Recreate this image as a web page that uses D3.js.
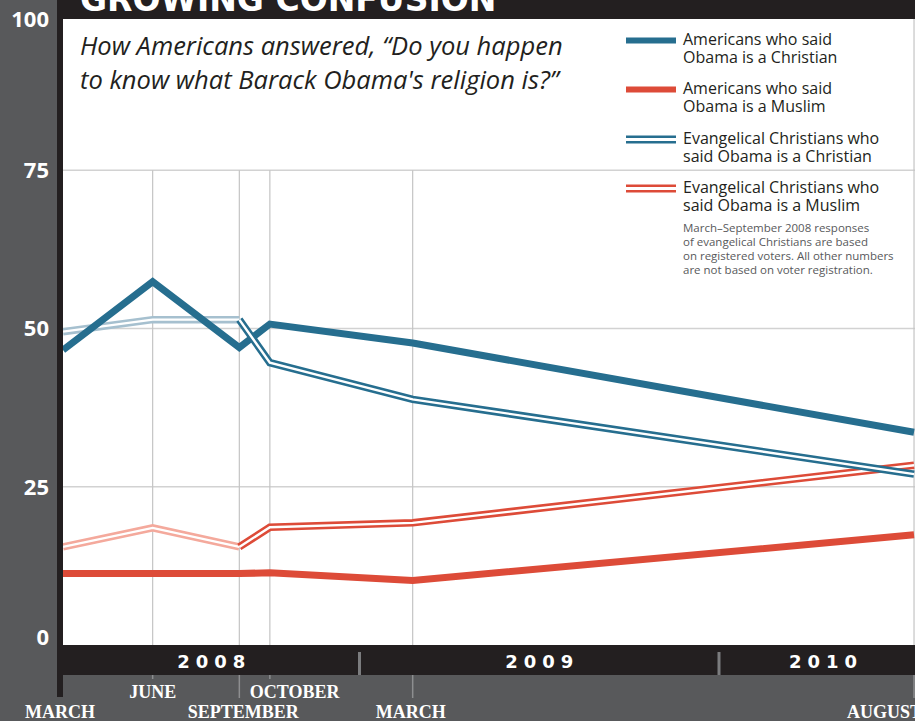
<!DOCTYPE html>
<html>
<head>
<meta charset="utf-8">
<script src="https://cdn.jsdelivr.net/npm/d3@7"></script>
<style>
  html, body { margin: 0; padding: 0; background: #58595b; }
  svg { display: block; }
</style>
</head>
<body>
<svg id="chart" width="915" height="721"></svg>
<script>
// ---- data ----
const surveyDates = ["2008-03-06", "2008-06-05", "2008-09-01", "2008-10-02", "2009-02-24", "2010-07-18"];
const monthLabels = ["MARCH", "JUNE", "SEPTEMBER", "OCTOBER", "MARCH", "AUGUST"];
const monthLabelRow = [2, 1, 2, 1, 2, 2];
const americansChristian = [46.6, 57.4, 47.0, 50.7, 47.7, 33.6];
const americansMuslim = [11.3, 11.3, 11.3, 11.4, 10.2, 17.4];
const evangelicalChristian = [49.5, 51.4, 51.4, 44.6, 38.8, 27.0];
const evangelicalMuslim = [15.5, 18.5, 15.5, 18.6, 19.3, 28.4];
const yTickValues = [0, 25, 50, 75, 100];
const yearLabels = ["2008", "2009", "2010"];
const legendItems = [
  { lines: ["Americans who said", "Obama is a Christian"], key: "blue", double: false },
  { lines: ["Americans who said", "Obama is a Muslim"], key: "red", double: false },
  { lines: ["Evangelical Christians who", "said Obama is a Christian"], key: "blue", double: true },
  { lines: ["Evangelical Christians who", "said Obama is a Muslim"], key: "red", double: true }
];
const noteLines = [
  "March\u2013September 2008 responses",
  "of evangelical Christians are based",
  "on registered voters. All other numbers",
  "are not based on voter registration."
];
const titleText = "GROWING CONFUSION";
const subtitleLines = ["How Americans answered, \u201cDo you happen", "to know what Barack Obama's religion is?\u201d"];

// ---- styles ----
const C = {
  gray: "#58595b", black: "#231f20", white: "#ffffff",
  blue: "#266e8f", red: "#dd4b38",
  lightblue: "#a6c0cf", lightred: "#f4a99c",
  grid: "#d2d2d2", vgrid: "#c4c4c4", tick: "#8d8e90"
};

const W = 915, H = 721;
const plot = { left: 63, right: 915, top: 19, bottom: 645 };
const svg = d3.select("#chart");

const parse = d3.timeParse("%Y-%m-%d");
const dates = surveyDates.map(parse);

const x = d3.scaleTime()
  .domain([parse("2008-01-01"), parse("2010-01-01")])
  .range([-1, 719]);
const y = d3.scaleLinear().domain([0, 100]).range([645, 12]);

// backgrounds
svg.append("rect").attr("width", W).attr("height", H).attr("fill", C.gray);
svg.append("rect").attr("x", plot.left).attr("y", plot.top)
  .attr("width", plot.right - plot.left).attr("height", plot.bottom - plot.top).attr("fill", C.white);

// horizontal grid
svg.append("g").selectAll("line").data(yTickValues.filter(v => v > 0 && v < 100)).join("line")
  .attr("x1", plot.left).attr("x2", plot.right)
  .attr("y1", d => y(d)).attr("y2", d => y(d))
  .attr("stroke", C.grid).attr("stroke-width", 1.5);

// vertical grid
svg.append("g").selectAll("line").data(dates.slice(1)).join("line")
  .attr("x1", d => x(d)).attr("x2", d => x(d))
  .attr("y1", (d, i) => i === dates.length - 2 ? plot.top : y(75))
  .attr("y2", plot.bottom)
  .attr("stroke", C.vgrid).attr("stroke-width", 1.2);

// title bar
svg.append("rect").attr("x", 57).attr("y", 0).attr("width", W - 57).attr("height", plot.top).attr("fill", C.black);
svg.append("text").attr("x", 80).attr("y", 11)
  .attr("font-family", "DejaVu Sans").attr("font-weight", "bold").attr("font-size", 33)
  .attr("fill", C.white).text(titleText);

// subtitle
const sub = svg.append("g");
subtitleLines.forEach((t, i) => {
  sub.append("text").attr("x", 80).attr("y", 55 + i * 34)
    .attr("font-family", "Open Sans").attr("font-style", "italic").attr("font-size", 24)
    .attr("fill", C.black).text(t);
});
// fit first line width to the reference width
(function fit() {
  const first = sub.select("text").node();
  const w = first.getComputedTextLength();
  const target = 483;
  const fs = 24 * target / w;
  sub.selectAll("text").attr("font-size", fs);
})();

// lines
const line = d3.line().x(d => x(d[0])).y(d => y(d[1])).curve(d3.curveLinear);
const pairs = arr => arr.map((v, i) => [dates[i], v]);

function doubleLine(data, color) {
  svg.append("path").datum(data).attr("d", line).attr("fill", "none")
    .attr("stroke", color).attr("stroke-width", 7.5).attr("stroke-linejoin", "miter");
  svg.append("path").datum(data).attr("d", line).attr("fill", "none")
    .attr("stroke", C.white).attr("stroke-width", 2.4).attr("stroke-linejoin", "miter");
}
function thickLine(data, color) {
  svg.append("path").datum(data).attr("d", line).attr("fill", "none")
    .attr("stroke", color).attr("stroke-width", 7).attr("stroke-linejoin", "miter")
    .attr("stroke-miterlimit", 10);
}

const ec = pairs(evangelicalChristian), em = pairs(evangelicalMuslim);
doubleLine(ec.slice(0, 3), C.lightblue);
doubleLine(em.slice(0, 3), C.lightred);
thickLine(pairs(americansMuslim), C.red);
thickLine(pairs(americansChristian), C.blue);
doubleLine(em.slice(2), C.red);
doubleLine(ec.slice(2), C.blue);

// left black bar
svg.append("rect").attr("x", 57).attr("y", 0).attr("width", 6).attr("height", 697).attr("fill", C.black);

// y labels
svg.append("g").selectAll("text").data(yTickValues).join("text")
  .attr("x", 49).attr("y", d => Math.min(637, Math.max(19, y(d))))
  .attr("dy", "0.36em").attr("text-anchor", "end")
  .attr("font-family", "Open Sans").attr("font-weight", "bold").attr("font-size", 22)
  .attr("fill", C.white).text(d => d);

// year band
svg.append("rect").attr("x", 57).attr("y", plot.bottom).attr("width", W - 57).attr("height", 30).attr("fill", C.black);
const yearStarts = yearLabels.map(s => parse(s + "-01-01"));
svg.append("g").selectAll("line").data(yearStarts.slice(1)).join("line")
  .attr("x1", d => x(d)).attr("x2", d => x(d)).attr("y1", 652).attr("y2", 675)
  .attr("stroke", "#7b7c7e").attr("stroke-width", 3);
const yearCenters = yearLabels.map((s, i) => {
  const a = i === 0 ? x(dates[0]) : x(yearStarts[i]);
  const b = i < yearLabels.length - 1 ? x(yearStarts[i + 1]) : W + 12;
  return (a + b) / 2;
});
svg.append("g").selectAll("text").data(yearLabels).join("text")
  .attr("x", (d, i) => yearCenters[i] + 3).attr("y", 668)
  .attr("text-anchor", "middle")
  .attr("font-family", "DejaVu Sans").attr("font-weight", "bold").attr("font-size", 18)
  .attr("letter-spacing", 6)
  .attr("fill", C.white).text(d => d);

// month ticks below band
svg.append("g").selectAll("line").data(dates.slice(1)).join("line")
  .attr("x1", d => x(d)).attr("x2", d => x(d))
  .attr("y1", 675).attr("y2", (d, i) => monthLabelRow[i + 1] === 1 ? 679 : 698)
  .attr("stroke", C.tick).attr("stroke-width", 1.5);

// month labels
const labelOffsets = [-3, 0, 4, 0, -2, -67];
const labelAnchors = ["middle", "middle", "middle", "start", "middle", "start"];
const labelDx = [0, 0, 0, -20, 0, 0];
svg.append("g").selectAll("text").data(monthLabels).join("text")
  .attr("x", (d, i) => x(dates[i]) + labelOffsets[i] + labelDx[i])
  .attr("y", (d, i) => monthLabelRow[i] === 1 ? 698 : 718)
  .attr("text-anchor", (d, i) => labelAnchors[i])
  .attr("font-family", "Liberation Serif").attr("font-weight", "bold").attr("font-size", 18)
  .attr("fill", C.white).text(d => d);

// legend
const lg = svg.append("g");
const legendTop = [45, 94, 144, 193];
legendItems.forEach((it, i) => {
  const ty = legendTop[i];
  const ly = ty - 4.5;
  const color = it.key === "blue" ? C.blue : C.red;
  if (it.double) {
    lg.append("line").attr("x1", 626).attr("x2", 676).attr("y1", ly).attr("y2", ly)
      .attr("stroke", color).attr("stroke-width", 8);
    lg.append("line").attr("x1", 626).attr("x2", 676).attr("y1", ly).attr("y2", ly)
      .attr("stroke", C.white).attr("stroke-width", 2.8);
  } else {
    lg.append("line").attr("x1", 626).attr("x2", 676).attr("y1", ly).attr("y2", ly)
      .attr("stroke", color).attr("stroke-width", 6);
  }
  const t = lg.append("text").attr("x", 683).attr("y", ty)
    .attr("font-family", "Open Sans").attr("font-size", 16)
    .attr("fill", C.black);
  it.lines.forEach((s, j) => {
    t.append("tspan").attr("x", 683).attr("dy", j === 0 ? 0 : 17.5).text(s);
  });
});
const note = lg.append("text").attr("x", 683).attr("y", 232)
  .attr("font-family", "Open Sans").attr("font-size", 11.5)
  .attr("fill", C.gray);
noteLines.forEach((s, j) => {
  note.append("tspan").attr("x", 683).attr("dy", j === 0 ? 0 : 14).text(s);
});
</script>
</body>
</html>
